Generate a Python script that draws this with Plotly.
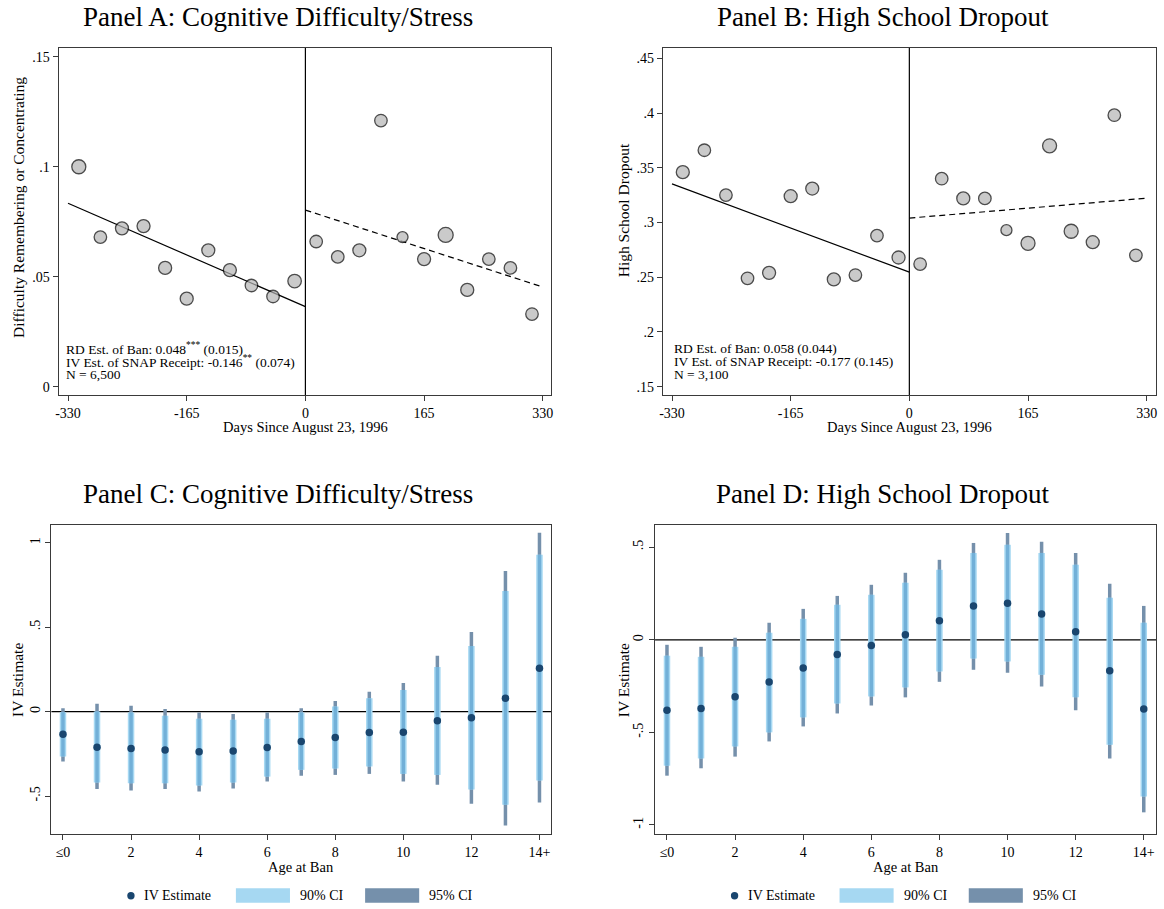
import plotly.graph_objects as go

W, H = 1164, 909

# ---------------- DATA ----------------
# Panel A: Cognitive difficulty / stress (binned means)
a_left_x = [-315, -285, -255, -225, -195, -165, -135, -105, -75, -45, -15]
a_left_y = [0.100, 0.068, 0.072, 0.073, 0.054, 0.040, 0.062, 0.053, 0.046, 0.041, 0.048]
a_right_x = [15, 45, 75, 105, 135, 165, 195, 225, 255, 285, 315]
a_right_y = [0.066, 0.059, 0.062, 0.121, 0.068, 0.058, 0.069, 0.044, 0.058, 0.054, 0.033]
a_fit_left_x = [-330, 0]
a_fit_left_y = [0.0834, 0.0364]
a_fit_right_x = [0, 330]
a_fit_right_y = [0.0803, 0.0453]
a_yticks = [0, 0.05, 0.1, 0.15]
a_yticklabels = ["0", ".05", ".1", ".15"]

# Panel B: High school dropout (binned means)
b_left_x = [-315, -285, -255, -225, -195, -165, -135, -105, -75, -45, -15]
b_left_y = [0.346, 0.366, 0.325, 0.249, 0.254, 0.324, 0.331, 0.248, 0.252, 0.288, 0.268]
b_right_x = [15, 45, 75, 105, 135, 165, 195, 225, 255, 285, 315]
b_right_y = [0.262, 0.340, 0.322, 0.322, 0.293, 0.281, 0.370, 0.292, 0.282, 0.398, 0.270]
b_fit_left_x = [-330, 0]
b_fit_left_y = [0.3353, 0.2546]
b_fit_right_x = [0, 330]
b_fit_right_y = [0.3040, 0.3222]
b_yticks = [0.15, 0.2, 0.25, 0.3, 0.35, 0.4, 0.45]
b_yticklabels = [".15", ".2", ".25", ".3", ".35", ".4", ".45"]

days_ticks = [-330, -165, 0, 165, 330]
days_ticklabels = ["-330", "-165", "0", "165", "330"]

# Panels C/D: IV estimates by age at ban
ages = list(range(15))
age_ticks = [0, 2, 4, 6, 8, 10, 12, 14]
age_ticklabels = ["≤0", "2", "4", "6", "8", "10", "12", "14+"]

c_est = [-0.134, -0.211, -0.219, -0.227, -0.238, -0.234, -0.213, -0.177,
         -0.154, -0.124, -0.122, -0.055, -0.037, 0.079, 0.257]
c_lo90 = [-0.266, -0.420, -0.424, -0.424, -0.438, -0.420, -0.385, -0.345,
          -0.337, -0.325, -0.369, -0.375, -0.461, -0.552, -0.408]
c_hi90 = [-0.004, 0.000, -0.006, -0.025, -0.043, -0.049, -0.043, -0.006,
          0.030, 0.079, 0.128, 0.264, 0.389, 0.714, 0.929]
c_lo95 = [-0.296, -0.459, -0.467, -0.459, -0.473, -0.456, -0.414, -0.380,
          -0.375, -0.369, -0.414, -0.434, -0.546, -0.675, -0.538]
c_hi95 = [0.020, 0.046, 0.034, 0.016, -0.006, -0.014, -0.006, 0.020,
          0.063, 0.117, 0.170, 0.330, 0.472, 0.833, 1.059]
c_yticks = [-0.5, 0, 0.5, 1]
c_yticklabels = ["-.5", "0", ".5", "1"]

d_est = [-0.381, -0.371, -0.308, -0.228, -0.153, -0.079, -0.031, 0.027,
         0.103, 0.183, 0.198, 0.139, 0.043, -0.167, -0.374]
d_lo90 = [-0.680, -0.641, -0.576, -0.500, -0.419, -0.344, -0.306, -0.257,
          -0.171, -0.101, -0.117, -0.189, -0.311, -0.567, -0.846]
d_hi90 = [-0.086, -0.092, -0.038, 0.038, 0.113, 0.189, 0.243, 0.308,
          0.378, 0.469, 0.513, 0.469, 0.405, 0.227, 0.092]
d_lo95 = [-0.734, -0.694, -0.631, -0.549, -0.468, -0.398, -0.355, -0.311,
          -0.227, -0.162, -0.178, -0.252, -0.381, -0.641, -0.932]
d_hi95 = [-0.027, -0.038, 0.011, 0.092, 0.167, 0.237, 0.297, 0.362,
          0.432, 0.523, 0.577, 0.529, 0.469, 0.302, 0.183]
d_yticks = [-1, -0.5, 0, 0.5]
d_yticklabels = ["-1", "-.5", "0", ".5"]

# ---------------- STYLE ----------------
SERIF = "Liberation Serif, Times New Roman, serif"
TITLE_FONT = "Liberation Serif, serif"
FRAME = "#3a3a3a"
PT_FILL = "#b4b4b4"
C90 = "#a6d8f2"
C95 = "#7590ab"
COVL = "#72b0d8"
NAVY = "#1a466f"

def px(x):
    return x / W

def py(y):
    return 1 - y / H

fig = go.Figure()

dom = {
    "A": ([px(55), px(550)], [py(395), py(48)], [-343, 341], [-0.0038, 0.154]),
    "B": ([px(663), px(1159)], [py(395), py(48)], [-342.5, 343], [0.1424, 0.4594]),
    "C": ([px(47.7), px(550.7)], [py(834), py(525)], [-0.34, 14.35], [-0.725, 1.105]),
    "D": ([px(655), px(1159)], [py(834), py(525)], [-0.35, 14.36], [-1.049, 0.62]),
}
axis_ids = {"A": ("x", "y", "xaxis", "yaxis"), "B": ("x2", "y2", "xaxis2", "yaxis2"),
            "C": ("x3", "y3", "xaxis3", "yaxis3"), "D": ("x4", "y4", "xaxis4", "yaxis4")}

def scatter_panel(key, lx, ly, rx, ry, flx, fly, frx, fry, lsizes, rsizes):
    xa, ya, _, _ = axis_ids[key]
    fig.add_trace(go.Scatter(x=flx, y=fly, mode="lines", line=dict(color="black", width=1.2),
                             xaxis=xa, yaxis=ya, showlegend=False, hoverinfo="skip"))
    fig.add_trace(go.Scatter(x=frx, y=fry, mode="lines",
                             line=dict(color="black", width=1.2, dash="6px,4px"),
                             xaxis=xa, yaxis=ya, showlegend=False, hoverinfo="skip"))
    fig.add_trace(go.Scatter(x=lx, y=ly, mode="markers",
                             marker=dict(size=lsizes, color=PT_FILL, line=dict(color="black", width=1.3)),
                             xaxis=xa, yaxis=ya, showlegend=False))
    fig.add_trace(go.Scatter(x=rx, y=ry, mode="markers",
                             marker=dict(size=rsizes, color=PT_FILL, line=dict(color="black", width=1.3)),
                             xaxis=xa, yaxis=ya, showlegend=False))

a_lsz = [14, 12.5, 13, 13, 13, 13, 13, 13, 12.5, 12.5, 13.5]
a_rsz = [12.5, 12.5, 13, 12.5, 11, 13, 15, 13, 12.5, 12.5, 12.5]
b_lsz = [13, 12.5, 12.5, 12.5, 13, 13, 13, 13, 12.5, 12.5, 13]
b_rsz = [12.5, 12.5, 13, 12.5, 11, 14, 14, 14, 13, 12.5, 12.5]

scatter_panel("A", a_left_x, a_left_y, a_right_x, a_right_y,
              a_fit_left_x, a_fit_left_y, a_fit_right_x, a_fit_right_y, a_lsz, a_rsz)
scatter_panel("B", b_left_x, b_left_y, b_right_x, b_right_y,
              b_fit_left_x, b_fit_left_y, b_fit_right_x, b_fit_right_y, b_lsz, b_rsz)

def seg(xs, lo, hi):
    X, Y = [], []
    for x, l, h in zip(xs, lo, hi):
        X += [x, x, None]
        Y += [l, h, None]
    return X, Y

def ci_panel(key, est, lo90, hi90, lo95, hi95):
    xa, ya, _, _ = axis_ids[key]
    X, Y = seg(ages, lo95, hi95)
    fig.add_trace(go.Scatter(x=X, y=Y, mode="lines", line=dict(color=C95, width=3.5),
                             xaxis=xa, yaxis=ya, showlegend=False, hoverinfo="skip"))
    X, Y = seg(ages, lo90, hi90)
    fig.add_trace(go.Scatter(x=X, y=Y, mode="lines", line=dict(color=C90, width=6.5),
                             xaxis=xa, yaxis=ya, showlegend=False, hoverinfo="skip"))
    fig.add_trace(go.Scatter(x=X, y=Y, mode="lines", line=dict(color=COVL, width=3.5),
                             xaxis=xa, yaxis=ya, showlegend=False, hoverinfo="skip"))
    fig.add_trace(go.Scatter(x=ages, y=est, mode="markers",
                             marker=dict(size=7.5, color=NAVY),
                             xaxis=xa, yaxis=ya, showlegend=False))

ci_panel("C", c_est, c_lo90, c_hi90, c_lo95, c_hi95)
ci_panel("D", d_est, d_lo90, d_hi90, d_lo95, d_hi95)

layout = dict(width=W, height=H, margin=dict(l=0, r=0, t=0, b=0),
              paper_bgcolor="white", plot_bgcolor="white",
              font=dict(family=SERIF, color="black", size=13), showlegend=False)

tickinfo = {
    "A": (days_ticks, days_ticklabels, a_yticks, a_yticklabels, 0),
    "B": (days_ticks, days_ticklabels, b_yticks, b_yticklabels, 0),
    "C": (age_ticks, age_ticklabels, c_yticks, c_yticklabels, -90),
    "D": (age_ticks, age_ticklabels, d_yticks, d_yticklabels, -90),
}
for key, (xd, yd, xr, yr) in dom.items():
    xa, ya, xname, yname = axis_ids[key]
    xt, xtl, yt, ytl, yang = tickinfo[key]
    common = dict(showline=True, mirror=True, linecolor=FRAME, linewidth=1.2,
                  ticks="outside", ticklen=5, tickwidth=1, tickcolor=FRAME,
                  showgrid=False, zeroline=False)
    layout[xname] = dict(domain=xd, range=xr, tickmode="array", tickvals=xt, ticktext=xtl,
                         anchor=ya, tickfont=dict(size=14, family=SERIF), **common)
    layout[yname] = dict(domain=yd, range=yr, tickmode="array", tickvals=yt, ticktext=ytl,
                         anchor=xa, tickangle=yang, tickfont=dict(size=14, family=SERIF), **common)

fig.update_layout(**layout)

shapes = []
# cutoff lines at day 0
for key in ("A", "B"):
    xa, ya, _, _ = axis_ids[key]
    shapes.append(dict(type="line", xref=xa, yref=f"{ya} domain", x0=0, x1=0, y0=0, y1=1,
                       line=dict(color="black", width=1.2), layer="above"))
# zero lines
for key in ("C", "D"):
    xa, ya, _, _ = axis_ids[key]
    shapes.append(dict(type="line", xref=f"{xa} domain", yref=ya, x0=0, x1=1, y0=0, y1=0,
                       line=dict(color="black", width=1.2), layer="below"))

annotations = []

def ann(text, x, y, size, xanchor="center", yanchor="middle", angle=0, family=SERIF):
    annotations.append(dict(text=text, x=px(x), y=py(y), xref="paper", yref="paper",
                            showarrow=False, xanchor=xanchor, yanchor=yanchor, textangle=angle,
                            font=dict(size=size, family=family, color="black")))

# panel titles
ann("Panel A: Cognitive Difficulty/Stress", 276, 17, 27, family=TITLE_FONT)
ann("Panel B: High School Dropout", 884, 17, 27, family=TITLE_FONT)
ann("Panel C: Cognitive Difficulty/Stress", 276, 494, 27, family=TITLE_FONT)
ann("Panel D: High School Dropout", 884, 494, 27, family=TITLE_FONT)

# axis titles
ann("Days Since August 23, 1996", 303, 427, 14.5)
ann("Days Since August 23, 1996", 911, 427, 14.5)
ann("Age at Ban", 299, 867, 14.5)
ann("Age at Ban", 907, 867, 14.5)
ann("Difficulty Remembering or Concentrating", 15, 207, 15.5, angle=-90)
ann("High School Dropout", 623, 210, 15.5, angle=-90)
ann("IV Estimate", 13, 680, 15.5, angle=-90)
ann("IV Estimate", 623, 680, 15.5, angle=-90)

# estimates text
a_txt = ["RD Est. of Ban: 0.048<sup>***</sup> (0.015)",
         "IV Est. of SNAP Receipt: -0.146<sup>**</sup> (0.074)",
         "N = 6,500"]
b_txt = ["RD Est. of Ban: 0.058 (0.044)",
         "IV Est. of SNAP Receipt: -0.177 (0.145)",
         "N = 3,100"]
for i, yy in enumerate([348.5, 361.5, 374.5]):
    ann(a_txt[i], 60, yy, 13.5, xanchor="left")
    ann(b_txt[i], 672.5, yy, 13.5, xanchor="left")

# legends for C and D
for off in (0, 607.3):
    cy = 895.7
    shapes.append(dict(type="circle", xref="paper", yref="paper",
                       x0=px(124 + off), x1=px(131.4 + off), y0=py(cy + 3.7), y1=py(cy - 3.7),
                       fillcolor=NAVY, line=dict(width=0)))
    ann("IV Estimate", 139 + off, cy, 14, xanchor="left")
    shapes.append(dict(type="rect", xref="paper", yref="paper",
                       x0=px(233.3 + off), x1=px(287.7 + off), y0=py(902.7), y1=py(888.3),
                       fillcolor=C90, line=dict(width=0)))
    ann("90% CI", 296 + off, cy, 14, xanchor="left")
    shapes.append(dict(type="rect", xref="paper", yref="paper",
                       x0=px(363.3 + off), x1=px(417.7 + off), y0=py(902.7), y1=py(888.3),
                       fillcolor=C95, line=dict(width=0)))
    ann("95% CI", 426 + off, cy, 14, xanchor="left")

fig.update_layout(shapes=shapes, annotations=annotations)
fig.write_html("out.html")
